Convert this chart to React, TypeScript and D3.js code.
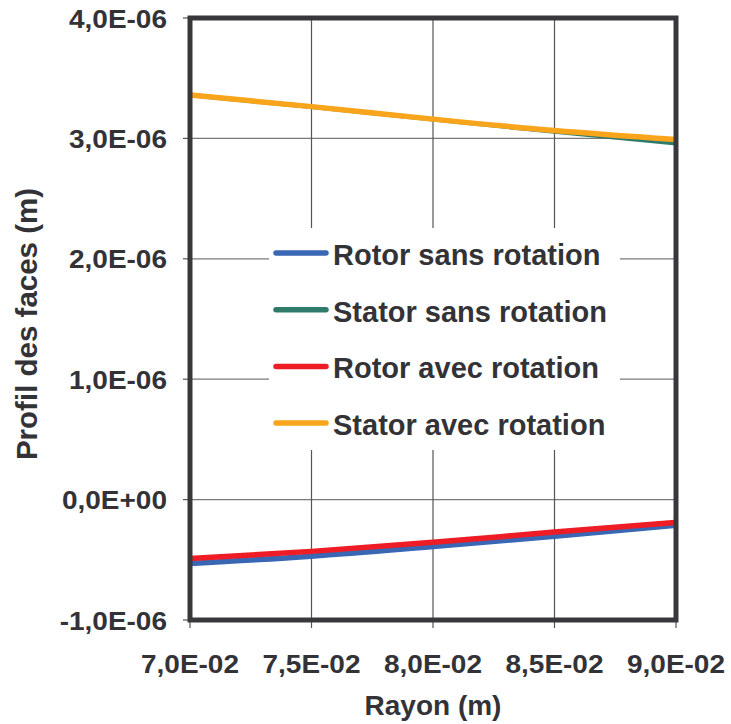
import { useEffect, useRef } from 'react'
import * as d3 from 'd3'

// rayon (m)
const rayon = [0.07, 0.075, 0.08, 0.085, 0.09]

// profil des faces, in units of 1E-06 m
const rotorSansRotation = [-0.53, -0.47, -0.39, -0.305, -0.213]
const statorSansRotation = [3.36, 3.262, 3.158, 3.057, 2.96]
const rotorAvecRotation = [-0.49, -0.43, -0.355, -0.27, -0.19]
const statorAvecRotation = [3.36, 3.264, 3.16, 3.065, 2.99]

const seriesNames = ['Rotor sans rotation', 'Stator sans rotation', 'Rotor avec rotation', 'Stator avec rotation']
const seriesColors = ['#3a67b4', '#2e7b6c', '#ee1c25', '#f9a51b']

const yTickValues = [-1, 0, 1, 2, 3, 4]
const yTickLabels = ['-1,0E-06', '0,0E+00', '1,0E-06', '2,0E-06', '3,0E-06', '4,0E-06']
const xTickValues = [0.07, 0.075, 0.08, 0.085, 0.09]
const xTickLabels = ['7,0E-02', '7,5E-02', '8,0E-02', '8,5E-02', '9,0E-02']

const WIDTH = 731
const HEIGHT = 724
const FONT = 'Liberation Sans, Arial, Helvetica, sans-serif'
const TEXT = '#333337'

// stretch tick labels so a 7 char label is ~98px wide, like the original
function widenLabels(sel: d3.Selection<SVGTextElement, number, SVGGElement, unknown>, ref: number) {
  sel.each(function () {
    const len = this.getComputedTextLength()
    d3.select(this)
      .attr('textLength', len * ref)
      .attr('lengthAdjust', 'spacingAndGlyphs')
  })
}

export default function App() {
  const svgRef = useRef<SVGSVGElement>(null)

  useEffect(() => {
    if (!svgRef.current) return
    const svg = d3.select(svgRef.current)
    svg.selectAll('*').remove()

    const plot = { left: 190, right: 676, top: 18, bottom: 620 }

    const x = d3.scaleLinear().domain([0.07, 0.09]).range([plot.left, plot.right])
    const y = d3.scaleLinear().domain([-1, 4]).range([plot.bottom, plot.top])

    // grid
    const grid = svg.append('g')
    grid.selectAll('line.h')
      .data(yTickValues)
      .join('line')
      .attr('class', 'h')
      .attr('x1', plot.left)
      .attr('x2', plot.right)
      .attr('y1', d => y(d))
      .attr('y2', d => y(d))
      .attr('stroke', '#7a7a7a')
      .attr('stroke-width', 1.2)
    grid.selectAll('line.v')
      .data(xTickValues)
      .join('line')
      .attr('class', 'v')
      .attr('x1', d => x(d))
      .attr('x2', d => x(d))
      .attr('y1', plot.top)
      .attr('y2', plot.bottom)
      .attr('stroke', '#555558')
      .attr('stroke-width', 1.2)

    // tick marks
    svg.append('g').selectAll('line')
      .data(yTickValues)
      .join('line')
      .attr('x1', plot.left - 7)
      .attr('x2', plot.left)
      .attr('y1', d => y(d))
      .attr('y2', d => y(d))
      .attr('stroke', '#555558')
      .attr('stroke-width', 1.2)
    svg.append('g').selectAll('line')
      .data(xTickValues)
      .join('line')
      .attr('x1', d => x(d))
      .attr('x2', d => x(d))
      .attr('y1', plot.bottom)
      .attr('y2', plot.bottom + 8)
      .attr('stroke', '#555558')
      .attr('stroke-width', 1.2)

    // series
    const all = [rotorSansRotation, statorSansRotation, rotorAvecRotation, statorAvecRotation]
    const line = d3.line<number>()
      .x((_, i) => x(rayon[i]))
      .y(d => y(d))
      .curve(d3.curveMonotoneX)

    svg.append('g').selectAll('path')
      .data(all)
      .join('path')
      .attr('d', d => line(d))
      .attr('fill', 'none')
      .attr('stroke', (_, i) => seriesColors[i])
      .attr('stroke-width', (_, i) => (i === 1 ? 4.5 : 5.5))
      .attr('stroke-linecap', 'butt')

    // plot border
    svg.append('rect')
      .attr('x', plot.left)
      .attr('y', plot.top)
      .attr('width', plot.right - plot.left)
      .attr('height', plot.bottom - plot.top)
      .attr('fill', 'none')
      .attr('stroke', '#38383c')
      .attr('stroke-width', 5)

    // tick labels
    const yLabels = svg.append('g').selectAll<SVGTextElement, number>('text')
      .data(yTickValues)
      .join('text')
      .attr('x', 167)
      .attr('y', d => y(d) + 9.5)
      .attr('text-anchor', 'end')
      .attr('font-family', FONT)
      .attr('font-weight', 'bold')
      .attr('font-size', 26)
      .attr('fill', TEXT)
      .text((_, i) => yTickLabels[i])

    const xLabels = svg.append('g').selectAll<SVGTextElement, number>('text')
      .data(xTickValues)
      .join('text')
      .attr('x', d => x(d))
      .attr('y', 673)
      .attr('text-anchor', 'middle')
      .attr('font-family', FONT)
      .attr('font-weight', 'bold')
      .attr('font-size', 26)
      .attr('fill', TEXT)
      .text((_, i) => xTickLabels[i])

    const refLen = (xLabels.node() as SVGTextElement).getComputedTextLength()
    const factor = refLen > 0 ? 98 / refLen : 1
    widenLabels(yLabels, factor)
    widenLabels(xLabels, factor)

    // axis titles
    svg.append('text')
      .attr('x', 433)
      .attr('y', 715)
      .attr('text-anchor', 'middle')
      .attr('font-family', FONT)
      .attr('font-weight', 'bold')
      .attr('font-size', 28)
      .attr('fill', TEXT)
      .text('Rayon (m)')

    svg.append('text')
      .attr('transform', 'translate(37,324) rotate(-90)')
      .attr('text-anchor', 'middle')
      .attr('font-family', FONT)
      .attr('font-weight', 'bold')
      .attr('font-size', 29.5)
      .attr('fill', TEXT)
      .text('Profil des faces (m)')

    // legend
    const legend = svg.append('g')
    legend.append('rect')
      .attr('x', 269)
      .attr('y', 228)
      .attr('width', 351)
      .attr('height', 222)
      .attr('fill', '#ffffff')
    const rows = legend.selectAll('g')
      .data(seriesNames)
      .join('g')
      .attr('transform', (_, i) => `translate(0,${253 + i * 56.7})`)
    rows.append('line')
      .attr('x1', 276)
      .attr('x2', 326)
      .attr('y1', 0)
      .attr('y2', 0)
      .attr('stroke', (_, i) => seriesColors[i])
      .attr('stroke-width', 5.5)
      .attr('stroke-linecap', 'round')
    rows.append('text')
      .attr('x', 333)
      .attr('y', 12)
      .attr('font-family', FONT)
      .attr('font-weight', 'bold')
      .attr('font-size', 29)
      .attr('fill', TEXT)
      .text(d => d)
  }, [])

  return (
    <div style={{ position: 'absolute', left: 0, top: 0 }}>
      <svg ref={svgRef} width={WIDTH} height={HEIGHT} style={{ display: 'block', background: '#fff' }} />
    </div>
  )
}
